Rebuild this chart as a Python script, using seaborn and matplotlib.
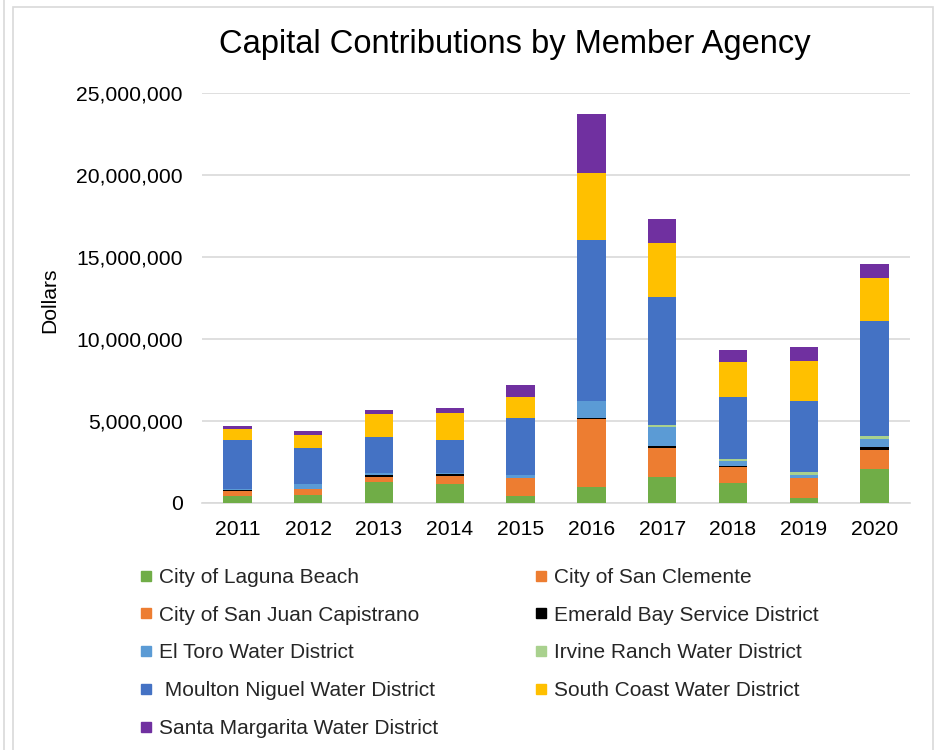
import matplotlib
matplotlib.use("Agg")
import matplotlib.pyplot as plt
import seaborn as sns
import pandas as pd
import numpy as np
from matplotlib.lines import Line2D
from matplotlib.patches import Rectangle
from matplotlib.ticker import FuncFormatter

years = ["2011", "2012", "2013", "2014", "2015", "2016", "2017", "2018", "2019", "2020"]

agencies = [
    "City of Laguna Beach",
    "City of San Clemente",
    "City of San Juan Capistrano",
    "Emerald Bay Service District",
    "El Toro Water District",
    "Irvine Ranch Water District",
    " Moulton Niguel Water District",
    "South Coast Water District",
    "Santa Margarita Water District",
]

colors = ["#70AD47", "#ED7D31", "#ED7D31", "#000000", "#5B9BD5",
          "#A9D18E", "#4472C4", "#FFC000", "#7030A0"]

# values, in millions of dollars
laguna_beach   = [0.45, 0.51, 1.30, 1.18, 0.45, 0.99, 1.60, 1.22, 0.32, 2.05]
san_clemente   = [0.25, 0.27, 0.25, 0.42, 0.95, 3.90, 1.60, 0.85, 1.05, 1.05]
san_juan_cap   = [0.05, 0.05, 0.05, 0.06, 0.10, 0.21, 0.17, 0.13, 0.15, 0.15]
emerald_bay    = [0.03, 0.02, 0.09, 0.13, 0.05, 0.06, 0.11, 0.08, 0.03, 0.15]
el_toro        = [0.05, 0.29, 0.14, 0.04, 0.18, 1.06, 1.17, 0.28, 0.16, 0.50]
irvine_ranch   = [0.00, 0.00, 0.00, 0.00, 0.00, 0.00, 0.09, 0.10, 0.18, 0.20]
moulton_niguel = [3.03, 2.23, 2.21, 2.03, 3.47, 9.82, 7.82, 3.81, 4.35, 6.98]
south_coast    = [0.65, 0.76, 1.37, 1.61, 1.26, 4.10, 3.31, 2.15, 2.40, 2.62]
santa_margarita= [0.19, 0.26, 0.24, 0.30, 0.75, 3.58, 1.45, 0.71, 0.85, 0.87]

series = [laguna_beach, san_clemente, san_juan_cap, emerald_bay, el_toro,
          irvine_ranch, moulton_niguel, south_coast, santa_margarita]

sns.set_theme(style="white")
plt.rcParams["font.family"] = ["Liberation Sans", "DejaVu Sans"]

fig = plt.figure(figsize=(9.37, 7.5), dpi=100)
ax = fig.add_axes([202/937, 1-503/750, (910-202)/937, (503-93)/750])

vals = np.array(series) * 1e6
cum = np.cumsum(vals, axis=0)

# draw cumulative totals from the top of the stack down
for i in range(len(agencies) - 1, -1, -1):
    df = pd.DataFrame({"Year": years, "Dollars": cum[i]})
    sns.barplot(data=df, x="Year", y="Dollars", color=colors[i], saturation=1,
                width=0.4, linewidth=0, ax=ax, zorder=3)

ax.set_xlim(-0.5, 9.5)
ax.set_ylim(0, 25_000_000)
ax.set_yticks(np.arange(0, 25_000_001, 5_000_000))
ax.yaxis.set_major_formatter(FuncFormatter(lambda v, p: f"{int(v):,}"))
ax.grid(axis="y", color="#D9D9D9", linewidth=1.2, zorder=0)
ax.set_axisbelow(True)
for s in ["top", "right", "left"]:
    ax.spines[s].set_visible(False)
ax.spines["bottom"].set_color("#D9D9D9")
ax.spines["bottom"].set_linewidth(1.2)
ax.tick_params(axis="y", length=0, pad=14, labelsize=15.2, labelcolor="#000000")
ax.tick_params(axis="x", length=0, pad=12, labelsize=15.2, labelcolor="#000000")
ax.set_xlabel("")
ax.set_ylabel("")

fig.text(50/937, 1-300/750, "Dollars", rotation=90, ha="center", va="center",
         fontsize=15.2, color="#000000")
fig.text(515/937, 1-44/750, "Capital Contributions by Member Agency",
         ha="center", va="center", fontsize=23.5, color="#000000")

# legend (row-major order as in the original)
handles = [Line2D([0], [0], marker="s", linestyle="none", markersize=7.5,
                  markerfacecolor=c, markeredgecolor=c) for c in colors]
order = [0, 2, 4, 6, 8, 1, 3, 5, 7]
leg = fig.legend([handles[i] for i in order], [agencies[i] for i in order],
                 ncol=2, frameon=False, fontsize=15,
                 loc="upper left", bbox_to_anchor=(140/937, 1-568/750),
                 handlelength=0.6, handletextpad=0.3, labelspacing=0.9,
                 columnspacing=4.65, borderaxespad=0, borderpad=0)

# outer frame lines
fig.add_artist(Rectangle((13/937, -0.05), (933-13)/937, 1.05-7/750,
                         transform=fig.transFigure, fill=False,
                         edgecolor="#D9D9D9", linewidth=1.2))
fig.add_artist(Line2D([4/937, 4/937], [0, 1], transform=fig.transFigure,
                      color="#D9D9D9", linewidth=1.2))

fig.savefig("out.png", dpi=100, facecolor="white")
